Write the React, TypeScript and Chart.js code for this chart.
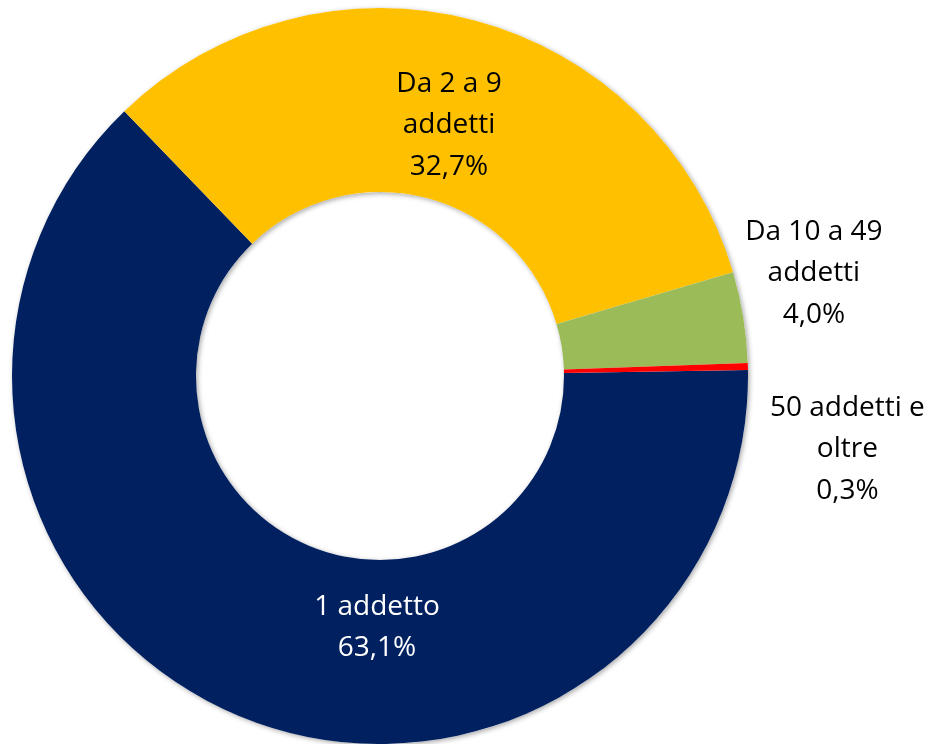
import React, { useEffect, useRef } from "react";
import { Chart, registerables } from "chart.js";

Chart.register(...registerables);

const categories: string[][] = [
  ["1 addetto"],
  ["Da 2 a 9", "addetti"],
  ["Da 10 a 49", "addetti"],
  ["50 addetti e", "oltre"],
];
const values: number[] = [63.1, 32.7, 4.0, 0.3];
const valueLabels: string[] = ["63,1%", "32,7%", "4,0%", "0,3%"];
const colors: string[] = ["#002060", "#FFC000", "#9BBB59", "#FF0000"];
const labelColors: string[] = ["#FFFFFF", "#000000", "#000000", "#000000"];
// label block centers, relative to the ring centre, in units of outer radius
const labelOffsets: [number, number][] = [
  [-0.008, 0.678],
  [0.1875, -0.6875],
  [1.179, -0.285],
  [1.27, 0.193],
];

const FONT = "'Open Sans', 'Noto Sans', sans-serif";
const FONT_SIZE = 28;
const LINE_H = 41.5;

const ringShadow = {
  id: "ringShadow",
  beforeDatasetsDraw(chart: any) {
    const meta = chart.getDatasetMeta(0);
    const arc = meta.data[0];
    if (!arc) return;
    const { x, y, outerRadius, innerRadius } = arc.getProps(["x", "y", "outerRadius", "innerRadius"], true);
    const ctx = chart.ctx;
    ctx.save();
    ctx.beginPath();
    ctx.arc(x, y, outerRadius, 0, Math.PI * 2);
    ctx.arc(x, y, innerRadius, 0, Math.PI * 2, true);
    ctx.closePath();
    ctx.shadowColor = "rgba(0,0,0,0.35)";
    ctx.shadowBlur = 5;
    ctx.shadowOffsetX = 1.5;
    ctx.shadowOffsetY = 1.5;
    ctx.fillStyle = "#ffffff";
    ctx.fill();
    ctx.restore();
  },
};

const sliceLabels = {
  id: "sliceLabels",
  afterDatasetsDraw(chart: any) {
    const meta = chart.getDatasetMeta(0);
    const ctx = chart.ctx;
    ctx.save();
    ctx.font = `${FONT_SIZE}px ${FONT}`;
    ctx.textAlign = "center";
    ctx.textBaseline = "alphabetic";
    meta.data.forEach((arc: any, i: number) => {
      const { x, y, outerRadius } = arc.getProps(["x", "y", "outerRadius"], true);
      const cx = x + labelOffsets[i][0] * outerRadius;
      const cy = y + labelOffsets[i][1] * outerRadius;
      const lines = [...categories[i], valueLabels[i]];
      const n = lines.length;
      ctx.fillStyle = labelColors[i];
      lines.forEach((t, j) => {
        const by = cy + (j - (n - 1) / 2) * LINE_H + 10;
        ctx.fillText(t, cx, by);
      });
    });
    ctx.restore();
  },
};

export default function App() {
  const ref = useRef<HTMLCanvasElement | null>(null);
  useEffect(() => {
    if (!ref.current) return;
    const chart = new Chart(ref.current, {
      type: "doughnut",
      data: {
        labels: categories.map((c) => c.join(" ")),
        datasets: [
          {
            data: values,
            backgroundColor: colors,
            borderWidth: 0,
          },
        ],
      },
      options: {
        animation: false,
        responsive: false,
        maintainAspectRatio: false,
        cutout: "50%",
        rotation: 89.07,
        layout: { padding: { left: 12, right: 188, top: 8, bottom: 0 } },
        plugins: {
          legend: { display: false },
          tooltip: { enabled: false },
        },
      },
      plugins: [ringShadow, sliceLabels],
    });
    return () => chart.destroy();
  }, []);
  return (
    <div style={{ position: "fixed", left: 0, top: 0, width: 936, height: 744, background: "#fff" }}>
      <canvas ref={ref} width={936} height={744} style={{ width: 936, height: 744 }} />
    </div>
  );
}
